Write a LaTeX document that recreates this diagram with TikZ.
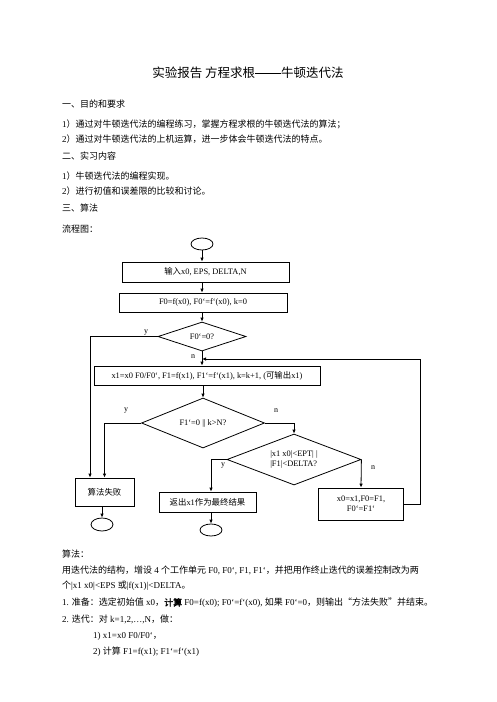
\documentclass[tikz,border=0pt]{standalone}
\usepackage{fontspec}
\setmainfont{Liberation Serif}
\newfontfamily\cjk[AutoFakeBold=2]{Noto Sans CJK SC}
\usetikzlibrary{shapes.geometric,arrows.meta}
\newcommand\zh[1]{{\cjk #1}}
\begin{document}
\begin{tikzpicture}[x=1pt,y=-1pt,
  box/.style={draw,line width=0.8pt,inner sep=0pt,minimum width=#1},
  dia/.style={draw,line width=0.8pt,diamond,inner sep=0pt,aspect=2.6},
  term/.style={draw,line width=0.8pt,ellipse,inner sep=0pt,minimum width=22pt,minimum height=12pt},
  conn/.style={line width=0.8pt},
  arr/.style={line width=0.8pt,-{Latex[length=4pt,width=3.5pt]}},
  lab/.style={font=\fontsize{8}{9}\selectfont,inner sep=0pt},
  body/.style={anchor=west,inner sep=0pt,font=\fontsize{9}{10}\selectfont},
  fc/.style={font=\fontsize{8.4}{10}\selectfont}]
\useasboundingbox (0,0) rectangle (496,702);
% title
\node[inner sep=0pt,font=\fontsize{12.5}{14}\selectfont] (title) at (248,73) {\zh{实验报告 方程求根}\rule[0.32em]{26pt}{0.6pt}\zh{牛顿迭代法}};
% body text top
\node[body] (t1) at (62,104) {\zh{一、目的和要求}};
\node[body] (t2) at (62,124) {1\zh{）通过对牛顿迭代法的编程练习，掌握方程求根的牛顿迭代法的算法；}};
\node[body] (t3) at (62,139) {2\zh{）通过对牛顿迭代法的上机运算，进一步体会牛顿迭代法的特点。}};
\node[body] (t4) at (62,156) {\zh{二、实习内容}};
\node[body] (t5) at (62,176) {1\zh{）牛顿迭代法的编程实现。}};
\node[body] (t6) at (62,191) {2\zh{）进行初值和误差限的比较和讨论。}};
\node[body] (t7) at (62,208) {\zh{三、算法}};
\node[body] (t8) at (62,229) {\zh{流程图：}};
% flowchart
\node[term] (start) at (202,244) {};
\node[box=167pt,minimum height=20pt,fc] (in) at (205.5,272) {\zh{输入}x0, EPS, DELTA,N};
\node[box=168pt,minimum height=19pt,fc] (init) at (203,302.5) {F0=f(x0), F0`=f`(x0), k=0};
\node[dia,minimum width=88pt,minimum height=29pt,fc] (d1) at (202,336.5) {F0`=0?};
\node[box=226pt,minimum height=19pt,fc] (it) at (207,375.5) {x1=x0 F0/F0`, F1=f(x1), F1`=f`(x1), k=k+1, (\zh{可输出}x1)};
\node[dia,minimum width=123pt,minimum height=50pt,fc] (d2) at (203,423) {F1`=0 || k>N?};
\node[dia,minimum width=134pt,minimum height=51pt,fc,align=left] (d3) at (294,459.5) {|x1 x0|<EPT| |\\|F1|<DELTA?};
\node[box=59pt,minimum height=28pt,fc] (fail) at (104.5,492) {\zh{算法失败}};
\node[box=97pt,minimum height=20pt,fc] (ret) at (207.5,502) {\zh{返出}x1\zh{作为最终结果}};
\node[box=85pt,minimum height=32pt,fc,align=center] (upd) at (361,504) {x0=x1,F0=F1,\\F0`=F1`};
\node[term,minimum height=13pt] (end1) at (102,524.5) {};
\node[term] (end2) at (211,530) {};
\coordinate (loopc) at (420,359);
\coordinate (join) at (202,359);
% connectors
\draw[arr] (start.south) -- (start.south |- in.north);
\draw[arr] (start.south |- in.south) -- (start.south |- init.north);
\draw[arr] (d1.north |- init.south) -- (d1.north);
\draw[arr] (d1.south) -- (d1.south |- it.north);
\draw[arr] (d2.north |- it.south) -- (d2.north);
\draw[arr] (d1.west) -| ([xshift=-14.5pt]fail.north);
\draw[arr] (d2.west) -| (fail.north);
\draw[arr] (d2.east) -| (d3.north);
\draw[arr] (d3.west) -| ([xshift=3.5pt]ret.north);
\draw[arr] (d3.east) -- (upd.north);
\draw[arr] (upd.east) -| (loopc) -- (join);
\draw[arr] (fail.south -| end1.north) -- (end1.north);
\draw[arr] (ret.south -| end2.north) -- (end2.north);
% labels
\node[lab] (ly1) at (146,333) {y};
\node[lab] (ln1) at (193,357) {n};
\node[lab] (ly2) at (126,411) {y};
\node[lab] (ln2) at (276,411) {n};
\node[lab] (ly3) at (223,466) {y};
\node[lab] (ln3) at (373,468) {n};
% body text bottom
\node[body] (b1) at (62,554) {\zh{算法：}};
\node[body] (b2) at (62,570) {\zh{用迭代法的结构，增设} 4 \zh{个工作单元} F0, F0`, F1, F1`\zh{，并把用作终止迭代的误差控制改为两}};
\node[body] (b3) at (62,586) {\zh{个}|x1 x0|<EPS \zh{或}|f(x1)|<DELTA\zh{。}};
\node[body] (b4) at (62,603) {1. \zh{准备：选定初始值} x0\zh{，}\textbf{\zh{计算}} F0=f(x0); F0`=f`(x0), \zh{如果} F0`=0\zh{，则输出“方法失败”并结束。}};
\node[body] (b5) at (62,619) {2. \zh{迭代：对} k=1,2,\ldots,N\zh{，做：}};
\node[body] (b6) at (93,636) {1) x1=x0 F0/F0`\zh{，}};
\node[body] (b7) at (93,652) {2) \zh{计算} F1=f(x1); F1`=f`(x1)};
\end{tikzpicture}
\end{document}
